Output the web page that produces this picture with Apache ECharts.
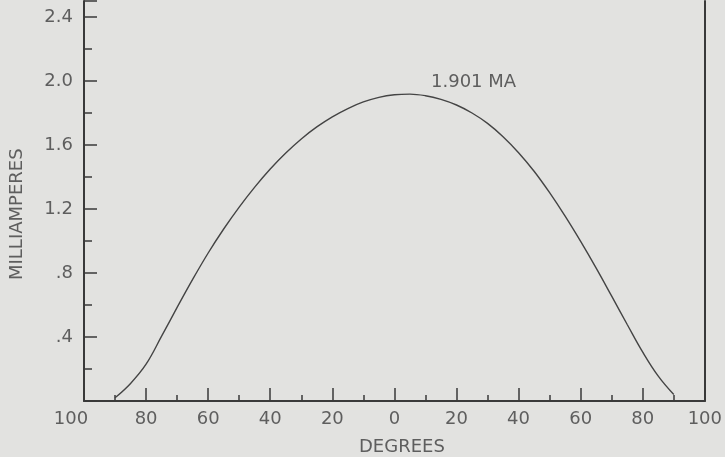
<!DOCTYPE html>
<html>
<head>
<meta charset="utf-8">
<script src="https://cdn.jsdelivr.net/npm/echarts@6/dist/echarts.min.js"></script>
<style>html,body{margin:0;padding:0;background:#e2e2e0;}#c{width:725px;height:457px;}</style>
</head>
<body>
<div id="c"></div>
<script>
// Angle in degrees (negative = left side of the chart) and current in milliamperes
const degrees = [-90, -85, -80, -75, -70, -65, -60, -55, -50, -45, -40, -35, -30, -25, -20, -15, -10, -5, 0, 5, 10, 15, 20, 25, 30, 35, 40, 45, 50, 55, 60, 65, 70, 75, 80, 85, 90];
const milliamps = [0.02, 0.11, 0.23, 0.405, 0.585, 0.76, 0.925, 1.075, 1.212, 1.337, 1.45, 1.55, 1.638, 1.713, 1.776, 1.828, 1.869, 1.898, 1.914, 1.918, 1.908, 1.885, 1.85, 1.80, 1.735, 1.652, 1.552, 1.436, 1.302, 1.155, 0.997, 0.83, 0.655, 0.478, 0.305, 0.155, 0.04];
const xTickLabels = ['100', '80', '60', '40', '20', '0', '20', '40', '60', '80', '100'];
const yTickLabels = ['', '.4', '.8', '1.2', '1.6', '2.0', '2.4'];
const peakLabel = '1.901 MA';
const xName = 'DEGREES';
const yName = 'MILLIAMPERES';

const ink = '#3a3a3a';
const textGray = '#5e5e5e';
const font = 'DejaVu Sans';

const chart = echarts.init(document.getElementById('c'));
chart.setOption({
  backgroundColor: '#e2e2e0',
  animation: false,
  grid: { left: 84, right: 18, top: 1, bottom: 56 },
  xAxis: {
    type: 'value', min: -100, max: 100, interval: 20,
    axisLine: { show: true, onZero: false, lineStyle: { color: ink, width: 2 } },
    axisTick: { show: true, inside: true, length: 13, lineStyle: { color: ink, width: 1.5 } },
    minorTick: { show: true, splitNumber: 2, length: 6, lineStyle: { color: ink, width: 1.5 } },
    splitLine: { show: false },
    axisLabel: {
      margin: 9,
      color: textGray, fontFamily: font, fontSize: 18,
      formatter: function (v) {
        const i = Math.round((v + 100) / 20);
        if (i === 0) return '{l|' + xTickLabels[i] + '}';
        return xTickLabels[i];
      },
      rich: { l: { color: textGray, fontFamily: font, fontSize: 18, padding: [0, 26, 0, 0] } }
    }
  },
  yAxis: [{
    type: 'value', min: 0, max: 2.5, interval: 0.4, position: 'left',
    axisLine: { show: true, onZero: false, lineStyle: { color: ink, width: 2 } },
    axisTick: { show: true, inside: true, length: 13, lineStyle: { color: ink, width: 1.5 } },
    minorTick: { show: true, splitNumber: 2, length: 8, lineStyle: { color: ink, width: 1.5 } },
    splitLine: { show: false },
    axisLabel: {
      margin: 11, color: textGray, fontFamily: font, fontSize: 18,
      formatter: function (v) {
        const i = Math.round(v / 0.4);
        if (Math.abs(v - i * 0.4) > 1e-6) return '';
        return yTickLabels[i] || '';
      }
    }
  }, {
    type: 'value', min: 0, max: 2.5, position: 'right',
    axisLine: { show: true, onZero: false, lineStyle: { color: ink, width: 2 } },
    axisTick: { show: false }, axisLabel: { show: false }, splitLine: { show: false }
  }],
  series: [{
    type: 'line',
    data: degrees.map((d, i) => [d, milliamps[i]]),
    smooth: 0.4,
    showSymbol: false,
    lineStyle: { color: '#444', width: 1.4 }
  }],
  graphic: [
    { type: 'text', left: 431, top: 73, style: { text: peakLabel, fill: textGray, font: '18px "DejaVu Sans"' } },
    { type: 'text', left: 359, top: 438, style: { text: xName, fill: textGray, font: '18px "DejaVu Sans"' } },
    { type: 'text', x: 8, y: 280, rotation: Math.PI / 2, style: { text: yName, fill: textGray, font: '18px "DejaVu Sans"' } }
  ]
});
</script>
</body>
</html>
